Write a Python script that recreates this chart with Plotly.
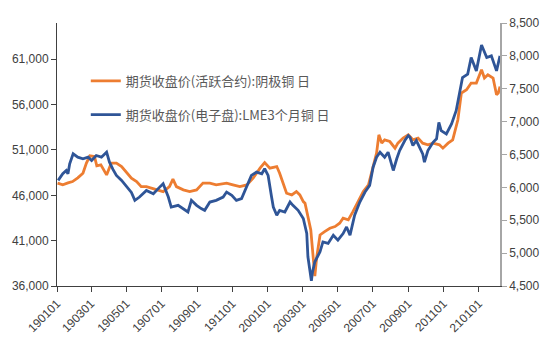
import plotly.graph_objects as go

# 期货收盘价(活跃合约):阴极铜 (CNY/t, left axis)
shfe_dates = [
    "2019-01-02", "2019-01-11", "2019-01-20", "2019-01-28", "2019-02-06", "2019-02-15",
    "2019-02-21", "2019-02-27", "2019-03-07", "2019-03-11", "2019-03-18", "2019-03-28",
    "2019-04-05", "2019-04-14", "2019-04-23", "2019-05-01", "2019-05-10", "2019-05-19",
    "2019-05-27", "2019-06-05", "2019-06-14", "2019-06-22", "2019-07-04", "2019-07-15",
    "2019-07-21", "2019-07-27", "2019-08-08", "2019-08-19", "2019-08-31", "2019-09-11",
    "2019-09-23", "2019-10-04", "2019-10-22", "2019-11-02", "2019-11-14", "2019-11-26",
    "2019-12-07", "2019-12-19", "2019-12-27", "2020-01-05", "2020-01-17", "2020-01-22",
    "2020-01-28", "2020-02-03", "2020-02-12", "2020-02-20", "2020-02-26", "2020-03-03",
    "2020-03-06", "2020-03-11", "2020-03-16", "2020-03-18", "2020-03-20", "2020-03-23",
    "2020-03-26", "2020-04-01", "2020-04-09", "2020-04-18", "2020-04-27", "2020-05-05",
    "2020-05-11", "2020-05-20", "2020-05-28", "2020-06-06", "2020-06-15", "2020-06-24",
    "2020-07-02", "2020-07-08", "2020-07-12", "2020-07-17", "2020-07-22", "2020-07-31",
    "2020-08-09", "2020-08-14", "2020-08-23", "2020-09-01", "2020-09-09", "2020-09-18",
    "2020-09-26", "2020-10-05", "2020-10-14", "2020-10-25", "2020-10-31", "2020-11-09",
    "2020-11-17", "2020-11-26", "2020-12-02", "2020-12-11", "2020-12-19", "2020-12-28",
    "2021-01-06", "2021-01-11", "2021-01-17", "2021-01-26", "2021-02-01", "2021-02-04",
    "2021-02-07",
]
shfe_values = [
    47340, 47150, 47370, 47520, 47920, 48440,
    49550, 50350, 50280, 49250, 49360, 48250,
    49550, 49550, 49170, 48620, 47890, 47520,
    46960, 46960, 46790, 46600, 46410, 46960,
    47780, 46960, 46600, 46410, 46600, 47340,
    47340, 47150, 47340, 47150, 46960, 47150,
    47890, 48990, 49610, 48990, 49170, 48440,
    47340, 46230, 46050, 46410, 46050, 45310,
    45130, 43650, 42180, 40710, 38870, 37100,
    39060, 41630, 41990, 42370, 42550, 42920,
    43470, 43290, 44200, 45310, 46410, 47150,
    49360, 50650, 52670, 51750, 52120, 51930,
    51200, 51750, 52310, 52670, 52120, 52310,
    51750, 51570, 51750, 51570, 51200, 51750,
    52120, 54330, 57270, 57640, 58380, 58380,
    59850, 58930, 59290, 58930, 57090, 57270,
    58000,
]

# 期货收盘价(电子盘):LME3个月铜 (USD/t, right axis)
lme_dates = [
    "2019-01-03", "2019-01-11", "2019-01-17", "2019-01-20", "2019-01-23", "2019-01-29",
    "2019-02-06", "2019-02-15", "2019-02-24", "2019-03-02", "2019-03-10", "2019-03-19",
    "2019-03-28", "2019-04-02", "2019-04-08", "2019-04-14", "2019-04-23", "2019-05-01",
    "2019-05-10", "2019-05-16", "2019-05-24", "2019-06-05", "2019-06-17", "2019-06-28",
    "2019-07-04", "2019-07-13", "2019-07-18", "2019-07-30", "2019-08-11", "2019-08-16",
    "2019-08-22", "2019-08-31", "2019-09-08", "2019-09-14", "2019-09-23", "2019-10-04",
    "2019-10-16", "2019-10-22", "2019-10-31", "2019-11-08", "2019-11-17", "2019-11-26",
    "2019-12-04", "2019-12-13", "2019-12-22", "2019-12-27", "2020-01-02", "2020-01-08",
    "2020-01-11", "2020-01-17", "2020-01-22", "2020-01-31", "2020-02-09", "2020-02-14",
    "2020-02-23", "2020-03-03", "2020-03-09", "2020-03-11", "2020-03-14", "2020-03-17",
    "2020-03-19", "2020-03-23", "2020-04-01", "2020-04-06", "2020-04-15", "2020-04-24",
    "2020-05-02", "2020-05-11", "2020-05-17", "2020-05-23", "2020-05-31", "2020-06-09",
    "2020-06-18", "2020-06-26", "2020-07-02", "2020-07-08", "2020-07-14", "2020-07-22",
    "2020-07-28", "2020-08-06", "2020-08-12", "2020-08-17", "2020-08-26", "2020-09-01",
    "2020-09-04", "2020-09-09", "2020-09-15", "2020-09-26", "2020-09-29", "2020-10-05",
    "2020-10-14", "2020-10-20", "2020-10-24", "2020-10-28", "2020-11-06", "2020-11-15",
    "2020-11-23", "2020-11-29", "2020-12-04", "2020-12-13", "2020-12-19", "2020-12-28",
    "2021-01-06", "2021-01-15", "2021-01-23", "2021-02-01", "2021-02-07",
]
lme_values = [
    6106, 6207, 6257, 6207, 6359, 6510,
    6459, 6435, 6459, 6409, 6485, 6459,
    6535, 6383, 6273, 6182, 6106, 6015,
    5924, 5803, 5853, 5954, 5904, 6004,
    6056, 5853, 5701, 5727, 5651, 5626,
    5803, 5727, 5677, 5651, 5777, 5803,
    5853, 5929, 5879, 5803, 5829, 6004,
    6182, 6232, 6207, 6283, 6182, 5853,
    5701, 5576, 5651, 5626, 5777, 5727,
    5651, 5526, 5298, 4944, 4717, 4580,
    4712, 4868, 5020, 5171, 5147, 5273,
    5197, 5298, 5398, 5273, 5576, 5777,
    5929, 6030, 6307, 6459, 6535, 6459,
    6535, 6257, 6435, 6560, 6712, 6788,
    6762, 6636, 6712, 6510, 6383, 6560,
    6686, 6738, 6989, 6863, 6813, 6965,
    7166, 7419, 7671, 7722, 7974, 7772,
    8166, 7974, 8000, 7772, 8000,
]

x_tick_dates = [
    "2019-01-01", "2019-03-01", "2019-05-01", "2019-07-01", "2019-09-01", "2019-11-01",
    "2020-01-01", "2020-03-01", "2020-05-01", "2020-07-01", "2020-09-01", "2020-11-01",
    "2021-01-01",
]
left_ticks = [36000, 41000, 46000, 51000, 56000, 61000]
right_ticks = [4500, 5000, 5500, 6000, 6500, 7000, 7500, 8000, 8500]

name_shfe = "期货收盘价(活跃合约):阴极铜 日"
name_lme = "期货收盘价(电子盘):LME3个月铜 日"

fig = go.Figure()
fig.add_trace(go.Scatter(
    x=shfe_dates, y=shfe_values, name=name_shfe, mode="lines",
    line=dict(color="#ED7D31", width=2.8), yaxis="y", legendgroup="a",
))
fig.add_trace(go.Scatter(
    x=lme_dates, y=lme_values, name=name_lme, mode="lines",
    line=dict(color="#2F5597", width=2.8), yaxis="y2", legendgroup="b",
))

tick_font = dict(family="Liberation Sans, Arial, sans-serif", size=12, color="#404040")

fig.update_layout(
    width=554, height=346,
    margin=dict(l=57, r=54, t=23, b=60),
    paper_bgcolor="white", plot_bgcolor="white",
    font=dict(family="Noto Sans CJK SC, sans-serif"),
    showlegend=True,
    legend=dict(
        x=0.065, y=0.837, xanchor="left", yanchor="top",
        bgcolor="rgba(0,0,0,0)",
        font=dict(family="Noto Sans CJK SC, sans-serif", size=13, color="#595959"),
        traceorder="grouped", tracegroupgap=14,
    ),
    xaxis=dict(
        type="date",
        range=["2019-01-01", "2021-02-07"],
        tickmode="array", tickvals=x_tick_dates,
        tickformat="%y%m%d", tickangle=-45,
        ticks="outside", ticklen=5, tickcolor="#404040",
        showline=True, linecolor="#404040", linewidth=1,
        showgrid=False, zeroline=False,
        tickfont=dict(family="Liberation Sans, Arial, sans-serif", size=12, color="#404040"),
    ),
    yaxis=dict(
        range=[36000, 65000],
        tickmode="array", tickvals=left_ticks,
        tickformat=",",
        ticks="outside", ticklen=5, tickcolor="#404040",
        showline=True, linecolor="#404040", linewidth=1,
        showgrid=False, zeroline=False,
        tickfont=tick_font,
    ),
    yaxis2=dict(
        range=[4500, 8500],
        overlaying="y", side="right",
        tickmode="array", tickvals=right_ticks,
        tickformat=",",
        ticks="outside", ticklen=5, tickcolor="#A6A6A6",
        showline=True, linecolor="#A6A6A6", linewidth=1.5,
        showgrid=False, zeroline=False,
        tickfont=tick_font,
    ),
)

fig.write_html("out.html")
